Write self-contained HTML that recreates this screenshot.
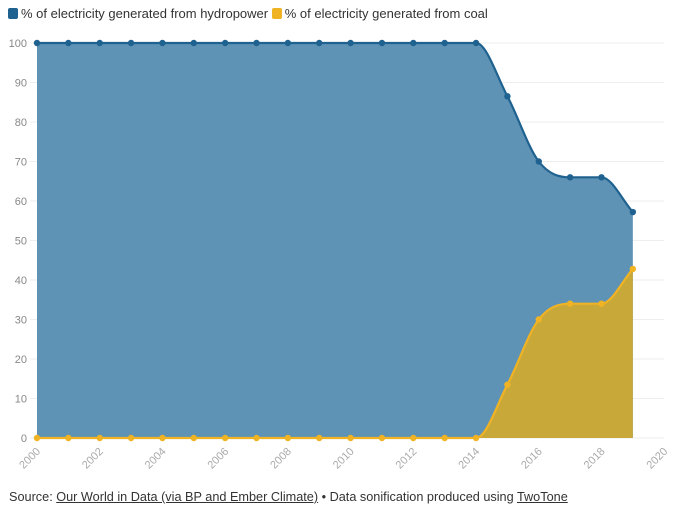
<!DOCTYPE html>
<html><head><meta charset="utf-8"><style>
body{margin:0;background:#fff;font-family:"Liberation Sans",sans-serif;}
#wrap{position:relative;width:677px;height:513px;overflow:hidden}
.legend{position:absolute;top:6px;left:8px;font-size:13px;color:#333;white-space:nowrap}
.sw{display:inline-block;width:10px;height:11px;border-radius:2px;vertical-align:-1px;margin-right:3px}
.src{position:absolute;top:490px;left:9px;font-size:12.7px;color:#333;white-space:nowrap}
.src u{text-decoration:underline}
</style></head><body><div id="wrap">
<div class="legend">
<span><span class="sw" style="background:#1f6290"></span>% of electricity generated from hydropower</span>
<span><span class="sw" style="background:#f0b323"></span>% of electricity generated from coal</span>
</div>
<svg id="svg" width="677" height="513" style="position:absolute;left:0;top:0"></svg>
<div class="src">Source: <u>Our World in Data (via BP and Ember Climate)</u> • Data sonification produced using <u>TwoTone</u></div>
</div>
<script>
const years=[2000,2001,2002,2003,2004,2005,2006,2007,2008,2009,2010,2011,2012,2013,2014,2015,2016,2017,2018,2019];
const hydro=[100,100,100,100,100,100,100,100,100,100,100,100,100,100,100,86.5,70,66,66,57.2];
const coal=[0,0,0,0,0,0,0,0,0,0,0,0,0,0,0,13.5,30,34,34,42.8];
const yTicks=[0,10,20,30,40,50,60,70,80,90,100];
const xTicks=[2000,2002,2004,2006,2008,2010,2012,2014,2016,2018,2020];
const svg=document.getElementById('svg');const NS='http://www.w3.org/2000/svg';
const X=y=>37+(y-2000)*31.36, Y=v=>438-v*3.95;
function el(t,a,p){const e=document.createElementNS(NS,t);for(const k in a)e.setAttribute(k,a[k]);(p||svg).appendChild(e);return e;}
yTicks.forEach(v=>{
 const l=el('line',{x1:30,x2:664,y1:Y(v),y2:Y(v),stroke:'#eee'});
 
 const t=el('text',{x:27,y:Y(v)+4,'text-anchor':'end','font-size':11,fill:'#888'});t.textContent=v;
 
});
xTicks.forEach(yr=>{
 const t=el('text',{x:0,y:0,'text-anchor':'end','font-size':11,fill:'#aaa',transform:`translate(${X(yr)+4},${452}) rotate(-45)`});t.textContent=yr;
 
});
function mono(xs,ys){const n=xs.length,d=[],m=[];for(let i=0;i<n-1;i++)d.push((ys[i+1]-ys[i])/(xs[i+1]-xs[i]));
 m[0]=d[0];m[n-1]=d[n-2];
 for(let i=1;i<n-1;i++){if(d[i-1]*d[i]<=0){m[i]=0;}else{const s=(d[i-1]+d[i])/2;m[i]=Math.sign(s)*Math.min(Math.abs(s),3*Math.min(Math.abs(d[i-1]),Math.abs(d[i])));}}
 let p=`M${xs[0]},${ys[0]}`;for(let i=0;i<n-1;i++){const h=(xs[i+1]-xs[i])/3;p+=`C${xs[i]+h},${ys[i]+m[i]*h} ${xs[i+1]-h},${ys[i+1]-m[i+1]*h} ${xs[i+1]},${ys[i+1]}`;}return p;}
const xs=years.map(X);
const hp=mono(xs,hydro.map(Y)), cp=mono(xs,coal.map(Y));
const b=`L${X(2019)},${Y(0)}L${X(2000)},${Y(0)}Z`;
let a=el('path',{d:hp+b,fill:'#5f93b5'});
a=el('path',{d:cp+b,fill:'#c9a83a'});
a=el('path',{d:hp,fill:'none',stroke:'#1f6290','stroke-width':2.2});
a=el('path',{d:cp,fill:'none',stroke:'#f0b323','stroke-width':2.2});
years.forEach((yr,i)=>{
 const c1=el('circle',{cx:X(yr),cy:Y(hydro[i]),r:3.2,fill:'#1f6290'});
 
 const c2=el('circle',{cx:X(yr),cy:Y(coal[i]),r:3.2,fill:'#f0b323'});
 
});
</script></body></html>
